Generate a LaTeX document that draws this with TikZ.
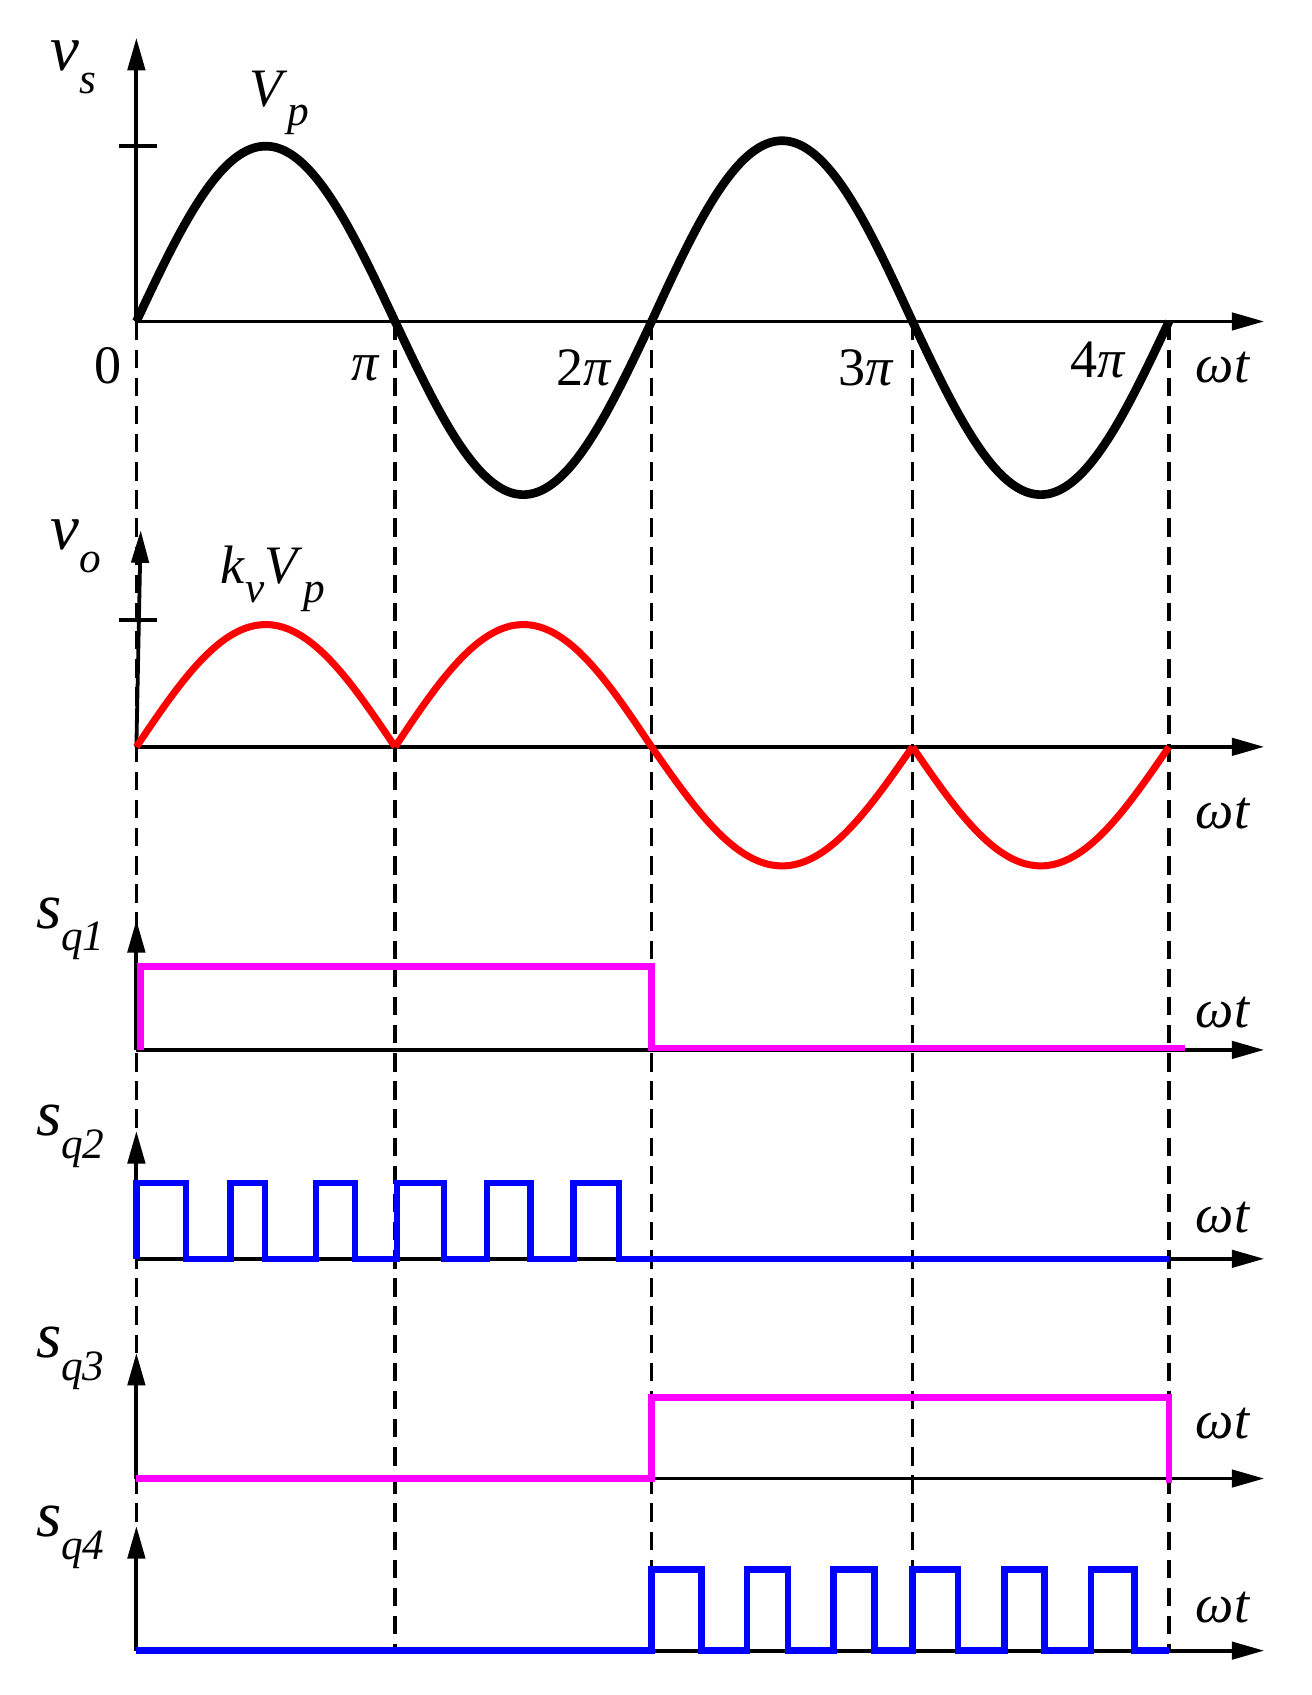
\documentclass[tikz,border=0pt]{standalone}
\usepackage{fontspec}
\setmainfont{Liberation Serif}
\usetikzlibrary{arrows.meta}
\definecolor{mg}{RGB}{255,0,255}
\newcommand{\hw}[5]{\draw[#5] plot[domain=0:180,samples=60,smooth] ({#1+(\x/180)*(#2-#1)},{#3-(#4)*sin(\x)});}
\newcommand{\lab}[2]{\textit{#1}\raisebox{-0.35em}{\fontsize{40}{42}\selectfont\textit{#2}}}
\begin{document}
\begin{tikzpicture}[x=1pt,y=-1pt,
  ax/.style={line width=3.5pt,-{Triangle[length=30pt,width=16pt]}},
  dsh/.style={line width=3pt,dash pattern=on 17pt off 9pt},
  blk/.style={line width=8pt,black},
  redc/.style={line width=6.5pt,red},
  mag/.style={line width=6pt,mg,line join=miter},
  blu/.style={line width=6pt,blue,line join=miter},
  big/.style={font=\fontsize{60}{64}\selectfont},
  med/.style={font=\fontsize{50}{54}\selectfont}]
\useasboundingbox (0,0) rectangle (1212,1566);
% dashed
\foreach \xx in {126,365,602,843,1080} \draw[dsh] (\xx,297) -- (\xx,1525);
% panel 1
\draw[ax] (126,297) -- (1168,297);
\draw[ax] (126,297) -- (126,35);
\draw[line width=3.5pt] (110,135) -- (145,135);
\hw{126}{365}{297}{162}{blk}
\hw{365}{602}{297}{-160}{blk}
\hw{602}{843}{297}{167}{blk}
\hw{843}{1080}{297}{-160}{blk}
\node[big] (vs) at (68,62) {\lab{v}{s}};
\node[med] (vp) at (258,95) {\lab{V}{p}};
\node[med] (l0) at (100,338) {0};
\node[med] (l1) at (338,340) {\textit{π}};
\node[med] (l2) at (540,340) {2\textit{π}};
\node[med] (l3) at (800,340) {3\textit{π}};
\node[med] (l4) at (1015,333) {4\textit{π}};
\node[med] (w1) at (1130,340) {\textit{ωt}};
% panel 2
\draw[ax] (126,690) -- (1168,690);
\draw[ax] (126,690) -- (130,490);
\draw[line width=3.5pt] (110,573) -- (145,573);
\hw{126}{365}{690}{113}{redc}
\hw{365}{602}{690}{113}{redc}
\hw{602}{843}{690}{-110}{redc}
\hw{843}{1080}{690}{-110}{redc}
\node[big] (vo) at (70,505) {\lab{v}{o}};
\node[med] (kv) at (252,535) {\textit{k}\raisebox{-0.35em}{\fontsize{40}{42}\selectfont\textit{v}}\lab{V}{p}};
\node[med] (w2) at (1130,752) {\textit{ωt}};
% panel 3
\draw[ax] (126,970) -- (1168,970);
\draw[ax] (126,970) -- (126,850);
\draw[mag] (130,970) -- (130,893) -- (602,893) -- (602,968) -- (1095,968);
\node[big] (s1) at (65,858) {\lab{s}{q1}};
\node[med] (w3) at (1130,935) {\textit{ωt}};
% panel 4
\draw[ax] (126,1163) -- (1168,1163);
\draw[ax] (126,1163) -- (126,1045);
\draw[blu] (126,1163) -- (126,1093) -- (172,1093) -- (172,1163) -- (213,1163) -- (213,1093) -- (245,1093) -- (245,1163) -- (292,1163) -- (292,1093) -- (328,1093) -- (328,1163) -- (367,1163) -- (367,1093) -- (410,1093) -- (410,1163) -- (450,1163) -- (450,1093) -- (490,1093) -- (490,1163) -- (530,1163) -- (530,1093) -- (572,1093) -- (572,1163) -- (1080,1163);
\node[big] (s2) at (65,1050) {\lab{s}{q2}};
\node[med] (w4) at (1130,1125) {\textit{ωt}};
% panel 5
\draw[ax] (126,1366) -- (1168,1366);
\draw[ax] (126,1366) -- (126,1250);
\draw[mag] (126,1366) -- (602,1366) -- (602,1291) -- (1080,1291) -- (1080,1370);
\node[big] (s3) at (65,1255) {\lab{s}{q3}};
\node[med] (w5) at (1130,1315) {\textit{ωt}};
% panel 6
\draw[ax] (126,1525) -- (1168,1525);
\draw[ax] (126,1525) -- (126,1410);
\draw[blu] (126,1525) -- (602,1525) -- (602,1450) -- (648,1450) -- (648,1525) -- (690,1525) -- (690,1450) -- (728,1450) -- (728,1525) -- (770,1525) -- (770,1450) -- (808,1450) -- (808,1525) -- (843,1525) -- (843,1450) -- (885,1450) -- (885,1525) -- (928,1525) -- (928,1450) -- (965,1450) -- (965,1525) -- (1008,1525) -- (1008,1450) -- (1048,1450) -- (1048,1525) -- (1080,1525);
\node[big] (s4) at (65,1420) {\lab{s}{q4}};
\node[med] (w6) at (1130,1485) {\textit{ωt}};
\end{tikzpicture}
\end{document}
